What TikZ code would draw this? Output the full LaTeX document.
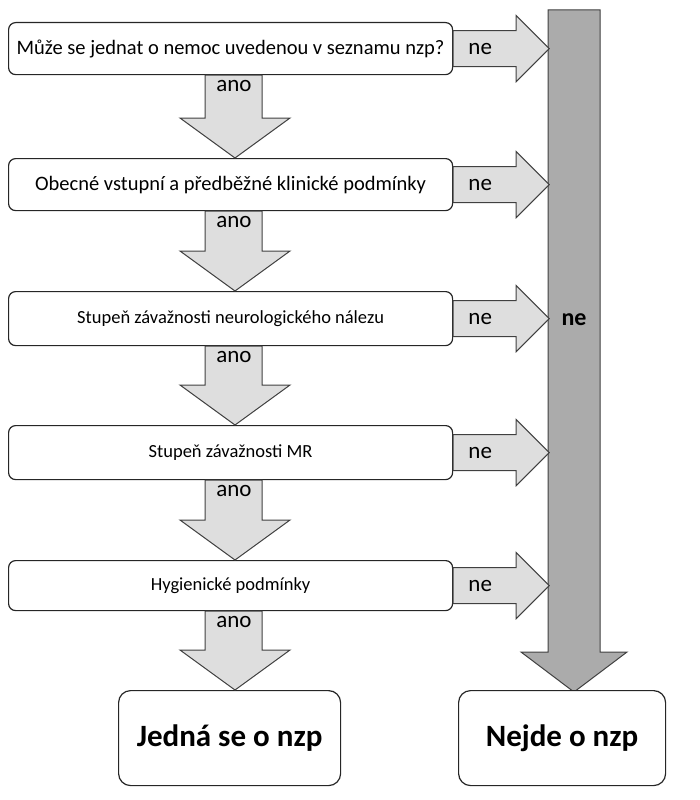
\documentclass[tikz,border=0pt]{standalone}
\usepackage{fontspec}
\setmainfont{Carlito}
\begin{document}
\begin{tikzpicture}[x=1pt,y=-1pt,
 box/.style={draw=black!85,line width=1.2pt,rounded corners=7pt,fill=white,inner sep=0pt},
 arr/.style={draw=black!75,line width=1pt,fill=black!13,line join=miter},
 big/.style={draw=black!75,line width=1pt,fill=black!33},
 lab/.style={font=\fontsize{23}{24}\selectfont}]
\useasboundingbox (0,0) rectangle (700,800);
% big vertical arrow
\draw[big] (548,10) -- (600,10) -- (600,652) -- (627,652) -- (574,692) -- (521,652) -- (548,652) -- cycle;
\node[font=\bfseries\fontsize{24}{25}\selectfont] (bne) at (574,320) {ne};
% boxes
\node[box,minimum width=444pt,minimum height=52pt,anchor=north west,font=\fontsize{20.5}{22}\selectfont] (b1) at (8,22) {Může se jednat o nemoc uvedenou v seznamu nzp?};
\node[box,minimum width=444pt,minimum height=52pt,anchor=north west,font=\fontsize{20.5}{22}\selectfont] (b2) at (8,158) {Obecné vstupní a předběžné klinické podmínky};
\node[box,minimum width=444pt,minimum height=54pt,anchor=north west,font=\fontsize{18.5}{20}\selectfont] (b3) at (8,291) {Stupeň závažnosti neurologického nálezu};
\node[box,minimum width=444pt,minimum height=54pt,anchor=north west,font=\fontsize{18.5}{20}\selectfont] (b4) at (8,425) {Stupeň závažnosti MR};
\node[box,minimum width=444pt,minimum height=50pt,anchor=north west,font=\fontsize{18.5}{20}\selectfont] (b5) at (8,560) {Hygienické podmínky};
\node[box,rounded corners=12pt,minimum width=222pt,minimum height=95pt,anchor=north west,font=\bfseries\fontsize{31}{32}\selectfont] (j) at (118,690) {Jedná se o nzp};
\node[box,rounded corners=12pt,minimum width=207pt,minimum height=95pt,anchor=north west,font=\bfseries\fontsize{31}{32}\selectfont] (n) at (458,690) {Nejde o nzp};
% right arrows
\foreach \b in {b1,b2,b3,b4,b5}{
 \path (\b.east) coordinate (e);
 \draw[arr] ([yshift=18]e) -- ++(63,0) -- ++(0,-15) -- ++(33,33) -- ++(-33,33) -- ++(0,-15) -- ++(-63,0) -- cycle;
 \node[lab] at ([xshift=27]e) {ne};
}
% down arrows
\foreach \a/\c in {b1/b2,b2/b3,b3/b4,b4/b5,b5/j}{
 \path (\a.south) coordinate (s);
 \path (\c.north) coordinate (t);
 \path ([yshift=40]t) coordinate (h);
 \draw[arr] (205,0 |- s) -- (205,0 |- h) -- (180,0 |- h) -- (235,0 |- t) -- (290,0 |- h) -- (262,0 |- h) -- (262,0 |- s) -- cycle;
 \node[lab,anchor=north] at ([yshift=-2]s -| 234,0) {ano};
}
\end{tikzpicture}
\end{document}
